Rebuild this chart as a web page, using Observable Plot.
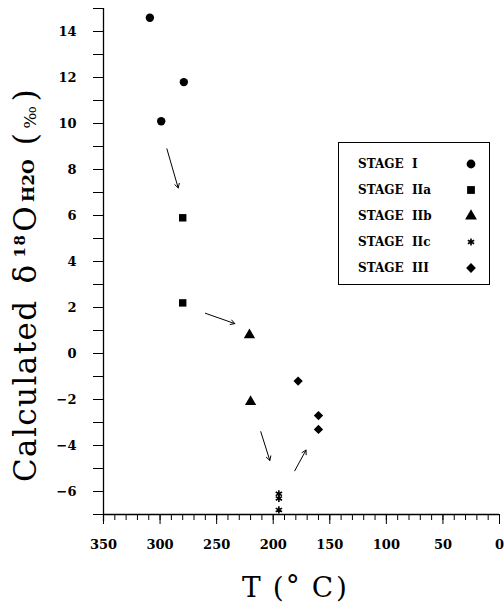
<!DOCTYPE html>
<html>
<head>
<meta charset="utf-8">
<script src="https://cdn.jsdelivr.net/npm/d3@7"></script>
<script src="https://cdn.jsdelivr.net/npm/@observablehq/plot@0.6"></script>
<style>
  body { margin: 0; background: #fff; }
  #wrap { position: relative; width: 504px; height: 605px; }
  #legend { position: absolute; left: 338px; top: 142px; width: 152px; height: 143px;
            border: 1.3px solid #000; box-sizing: border-box; background: #fff;
            font-family: "DejaVu Serif"; font-weight: bold; font-size: 12px; color: #000; }
  .row { position: absolute; left: 19px; height: 16px; line-height: 16px; white-space: pre; }
  .sym { position: absolute; left: 124px; width: 16px; height: 16px; }
</style>
</head>
<body>
<div id="wrap"></div>
<script>
// ---------- data ----------
const stageNames   = ["STAGE I", "STAGE IIa", "STAGE IIb", "STAGE IIc", "STAGE III"];
const stageSymbols = ["circle", "square", "triangle", "asterisk", "diamond2"];

const stage1T   = [309, 279, 299];
const stage1D   = [14.6, 11.8, 10.1];
const stage2aT  = [280, 280];
const stage2aD  = [5.9, 2.2];
const stage2bT  = [221, 220];
const stage2bD  = [0.8, -2.1];
const stage2cT  = [195, 195, 195];
const stage2cD  = [-6.1, -6.3, -6.8];
const stage3T   = [178, 160, 160];
const stage3D   = [-1.2, -2.7, -3.3];

// arrows (stage transitions)
const arrowFromT = [294, 260, 211, 181];
const arrowFromD = [8.9, 1.75, -3.4, -5.1];
const arrowToT   = [284, 234, 203, 171];
const arrowToD   = [7.2, 1.3, -4.65, -4.2];

// axes
const xMajorTicks = [350, 300, 250, 200, 150, 100, 50, 0];
const xMinorTicks = d3.range(0, 351, 10);
const yMajorTicks = [-6, -4, -2, 0, 2, 4, 6, 8, 10, 12, 14];
const yMinorTicks = d3.range(-7, 16, 1);

// ---------- build tables ----------
const seriesT = [stage1T, stage2aT, stage2bT, stage2cT, stage3T];
const seriesD = [stage1D, stage2aD, stage2bD, stage2cD, stage3D];
const points = [];
stageNames.forEach((s, i) => seriesT[i].forEach((t, j) => points.push({stage: s, T: t, d: seriesD[i][j]})));
const filled = points.filter(p => p.stage !== "STAGE IIc");
const stars  = points.filter(p => p.stage === "STAGE IIc");
const arrows = arrowFromT.map((t, i) => ({x1: t, y1: arrowFromD[i], x2: arrowToT[i], y2: arrowToD[i]}));

const chart = Plot.plot({
  width: 504, height: 605,
  marginLeft: 103, marginRight: 5, marginTop: 8, marginBottom: 91,
  style: {fontFamily: "DejaVu Serif", fontSize: "13px", fontWeight: "bold", color: "#000", background: "transparent"},
  x: {domain: [350, 0]},
  y: {domain: [-7, 15]},
  symbol: {domain: stageNames, range: stageSymbols},
  marks: [
    Plot.ruleX([350], {insetBottom: -7, stroke: "#000", strokeWidth: 1.3}),
    Plot.ruleY([-7], {stroke: "#000", strokeWidth: 1.3}),
    Plot.axisY({ticks: yMinorTicks, tickSize: 10, tickFormat: () => "", label: null, strokeWidth: 1}),
    Plot.axisY({ticks: yMajorTicks, tickSize: 10, tickPadding: 17, label: null, strokeWidth: 1}),
    Plot.axisX({ticks: xMinorTicks, tickSize: 6, tickFormat: () => "", label: null, strokeWidth: 1}),
    Plot.axisX({ticks: xMajorTicks, tickSize: 10, tickPadding: 15, label: null, strokeWidth: 1}),
    Plot.arrow(arrows, {x1: "x1", y1: "y1", x2: "x2", y2: "y2", headLength: 7, strokeWidth: 1, stroke: "#000"}),
    Plot.dot(filled, {x: "T", y: "d", symbol: "stage", fill: "#000", stroke: null, r: 4.2}),
    Plot.dot(stars,  {x: "T", y: "d", symbol: "stage", stroke: "#000", strokeWidth: 1.6, r: 3.4})
  ]
});

const svg = d3.select(chart);

// y title
const yt = svg.append("text")
  .attr("transform", "translate(36,285) rotate(-90)")
  .attr("text-anchor", "middle")
  .attr("font-family", "DejaVu Serif")
  .attr("font-size", 31)
  .attr("font-weight", "normal")
  .attr("fill", "#000")
  .style("letter-spacing", "1.4px");
yt.append("tspan").text("Calculated");
yt.append("tspan").attr("dx", 16).text("δ");
yt.append("tspan").attr("dx", 6).attr("dy", -11).attr("font-size", 15).attr("font-weight", "bold").text("18");
yt.append("tspan").attr("dx", 2).attr("dy", 11).text("O");
yt.append("tspan").attr("dx", 3).attr("dy", -2).attr("font-size", 17).attr("font-weight", "bold").style("letter-spacing", "0px").text("H2O");
yt.append("tspan").attr("dx", 14).attr("dy", 2).text("(");
yt.append("tspan").attr("dx", 3).attr("font-size", 17).text("‰");
yt.append("tspan").attr("dx", 3).text(")");

// x title
const xt = svg.append("text")
  .attr("x", 242).attr("y", 597)
  .attr("text-anchor", "start")
  .attr("font-family", "DejaVu Serif")
  .attr("font-size", 28)
  .attr("font-weight", "normal")
  .attr("fill", "#000");
xt.append("tspan").text("T");
xt.append("tspan").attr("dx", 12).text("(");
xt.append("tspan").attr("dx", 2).attr("dy", -2).text("°");
xt.append("tspan").attr("dx", 12).attr("dy", 2).text("C");
xt.append("tspan").attr("dx", 3).text(")");

const wrap = document.getElementById("wrap");
wrap.appendChild(chart);

// legend
const legend = document.createElement("div");
legend.id = "legend";
const rowTops = [13, 39, 65, 91, 117];
stageNames.forEach((s, i) => {
  const row = document.createElement("div");
  row.className = "row";
  row.style.top = rowTops[i] + "px";
  row.textContent = s.replace(" ", "  ");
  legend.appendChild(row);
  const symMap = {circle: d3.symbolCircle, square: d3.symbolSquare, triangle: d3.symbolTriangle, asterisk: d3.symbolAsterisk, diamond2: d3.symbolDiamond2};
  const sym = stageSymbols[i];
  const ns = "http://www.w3.org/2000/svg";
  const s2 = document.createElementNS(ns, "svg");
  s2.setAttribute("class", "sym");
  s2.setAttribute("width", 16); s2.setAttribute("height", 16);
  s2.style.top = rowTops[i] + "px";
  const p = document.createElementNS(ns, "path");
  const r = sym === "asterisk" ? 3.4 : 4.4;
  p.setAttribute("d", d3.symbol(symMap[sym], Math.PI * r * r)());
  p.setAttribute("transform", "translate(8,8)");
  if (sym === "asterisk") { p.setAttribute("fill", "none"); p.setAttribute("stroke", "#000"); p.setAttribute("stroke-width", 1.6); }
  else p.setAttribute("fill", "#000");
  s2.appendChild(p);
  legend.appendChild(s2);
});
wrap.appendChild(legend);
</script>
</body>
</html>
